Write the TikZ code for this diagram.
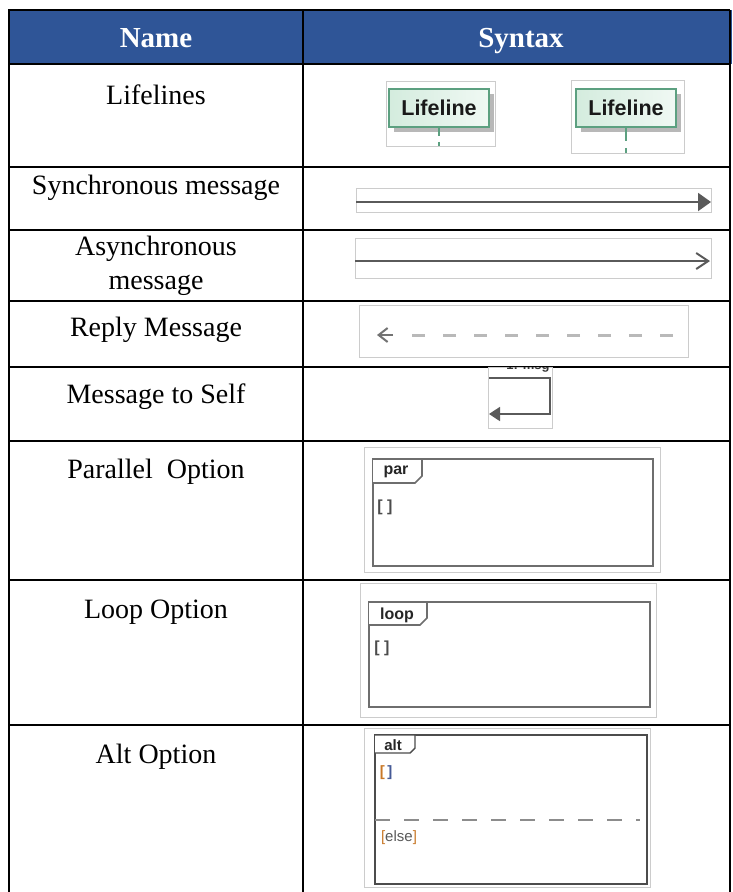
\documentclass[tikz,border=0pt]{standalone}
\usepackage{fontspec}
\setmainfont{Liberation Serif}
\newfontfamily\uisans{Liberation Sans}
\usetikzlibrary{arrows.meta,shadows}

\definecolor{hdrblue}{RGB}{47,85,151}
\definecolor{llborder}{RGB}{92,160,128}
\definecolor{llfill}{RGB}{212,236,222}
\definecolor{framegray}{RGB}{204,204,204}
\definecolor{msggray}{RGB}{90,90,90}
\definecolor{replygray}{RGB}{185,185,185}
\definecolor{cfgray}{RGB}{110,110,110}
\definecolor{guardorange}{RGB}{200,120,40}
\definecolor{guardblue}{RGB}{70,90,150}

\begin{document}
\begin{tikzpicture}[x=1pt,y=-1pt,
  gridline/.style={line width=1.8pt,black},
  hdrtext/.style={text=white,font=\fontsize{29}{30}\selectfont\bfseries,anchor=base},
  nametext/.style={font=\fontsize{28}{34}\selectfont,align=center},
  imgframe/.style={draw=framegray,line width=0.9pt},
  lifeline/.style={draw=llborder,line width=1.6pt,left color=llfill,right color=llfill!35!white,
    minimum width=100pt,minimum height=38pt,inner sep=0pt,text=black!90,
    font=\uisans\fontsize{21.5}{23}\selectfont\bfseries,
    drop shadow={shadow xshift=5pt,shadow yshift=-5pt,fill=black!35,opacity=0.8}},
  lifedash/.style={draw=llborder,line width=1.8pt},
  msgline/.style={draw=msggray,line width=2pt},
  replyline/.style={draw=replygray,line width=3pt,dash pattern=on 13pt off 18pt},
  cfframe/.style={draw=cfgray,line width=2.2pt},
  cftab/.style={draw=cfgray,line width=1.6pt,fill=white},
  cflabel/.style={font=\uisans\fontsize{16}{18}\selectfont\bfseries,text=black!85,inner sep=0pt},
  guard/.style={font=\uisans\fontsize{15}{17}\selectfont,text=black!70,inner sep=0pt},
  fguard/.style={font=\uisans\fontsize{16}{18}\selectfont\bfseries,text=black!70,inner sep=0pt},
]
\useasboundingbox (0,0) rectangle (732,892);

% ---- table header band ----
\fill[hdrblue] (8,10) rectangle (732,64);
\node[hdrtext] (hName) at (156,47) {Name};
\node[hdrtext] (hSyntax) at (521,47) {Syntax};

% ---- table rules ----
\foreach \yy in {10,64,167,230,301,367,441,580,725}
  \draw[gridline] (8,\yy) -- (730,\yy);
\foreach \xx in {9,303,730}
  \draw[gridline] (\xx,10) -- (\xx,892);

% ---- name column ----
\node[nametext] (nLife)  at (156,95)  {Lifelines};
\node[nametext] (nSync)  at (156,188) {Synchronous message};
\node[nametext] (nAsync) at (156,266) {Asynchronous\\message};
\node[nametext] (nReply) at (156,330) {Reply Message};
\node[nametext] (nSelf)  at (156,397) {Message to Self};
\node[nametext] (nPar)   at (156,472) {Parallel\ \ Option};
\node[nametext] (nLoop)  at (156,612) {Loop Option};
\node[nametext] (nAlt)   at (156,757) {Alt Option};

% ---- lifelines ----
\draw[imgframe] (386,81) rectangle (495,146);
\node[lifeline] (lifeA) at (439,108) {Lifeline};
\coordinate (lifeAend) at (439,146);
\draw[lifedash,dash pattern=on 8pt off 6pt] (lifeA.south) -- (lifeAend);

\draw[imgframe] (571,80) rectangle (684,153);
\node[lifeline] (lifeB) at (626,108) {Lifeline};
\coordinate (lifeBend) at (626,153);
\draw[lifedash,dash pattern=on 13pt off 7pt] (lifeB.south) -- (lifeBend);

% ---- synchronous message ----
\draw[imgframe] (356,188) rectangle (711,212);
\coordinate (syncA) at (356,202);
\coordinate (syncB) at (711,202);
\draw[msgline,-{Triangle[length=13pt,width=18pt]}] (syncA) -- (syncB);

% ---- asynchronous message ----
\draw[imgframe] (355,238) rectangle (711,278);
\coordinate (asyncA) at (355,261);
\coordinate (asyncB) at (710,261);
\draw[msgline,-{Straight Barb[length=12pt,width=16pt,line width=2pt]}] (asyncA) -- (asyncB);

% ---- reply message ----
\draw[imgframe] (359,305) rectangle (688,357);
\coordinate (replyA) at (673,335);
\coordinate (replyB) at (406,335);
\coordinate (replyC) at (393,335);
\coordinate (replyD) at (377,335);
\draw[replyline] (replyA) -- (replyB);
\draw[draw=black!55,line width=2pt,-{Straight Barb[length=9pt,width=14pt,line width=2pt]}] (replyC) -- (replyD);

% ---- message to self (label cut off by the frame top) ----
\draw[imgframe] (488,367) rectangle (552,428);
\begin{scope}
  \clip (488,367) rectangle (552,428);
  \node[font=\uisans\fontsize{13}{15}\selectfont\bfseries,text=black!80] (selfLbl) at (528,366) {1: msg};
\end{scope}
\coordinate (selfA) at (489,378);
\coordinate (selfB) at (550,378);
\coordinate (selfC) at (550,414);
\coordinate (selfD) at (489,414);
\draw[msgline,line width=1.8pt,-{Triangle[length=11pt,width=14pt]}] (selfA) -- (selfB) -- (selfC) -- (selfD);

% ---- par fragment ----
\draw[imgframe] (364,447) rectangle (660,572);
\draw[cfframe] (373,459) rectangle (653,566);
\draw[cftab] (373,459) -- (422,459) -- (422,476) -- (415,483) -- (373,483);
\node[cflabel] (parLbl) at (396,472) {par};
\node[fguard] (parGuard) at (385,507) {[ ]};

% ---- loop fragment ----
\draw[imgframe] (360,583) rectangle (656,717);
\draw[cfframe] (369,602) rectangle (650,707);
\draw[cftab] (369,602) -- (427,602) -- (427,618) -- (420,625) -- (369,625);
\node[cflabel] (loopLbl) at (397,615) {loop};
\node[fguard] (loopGuard) at (382,648) {[ ]};

% ---- alt fragment ----
\draw[imgframe] (364,728) rectangle (650,887);
\draw[cfframe,line width=1.6pt,draw=black!70] (375,735) rectangle (647,884);
\draw[cftab,draw=black!70,line width=1.4pt] (375,735) -- (415,735) -- (415,748) -- (410,753) -- (375,753);
\node[cflabel,font=\uisans\fontsize{15}{17}\selectfont\bfseries] (altLbl) at (393,745) {alt};
\node[guard,font=\uisans\fontsize{15}{17}\selectfont\bfseries] (altGuard) at (386,773) {\textcolor{guardorange}{[}\,\textcolor{guardblue}{]}};
\coordinate (altSepA) at (375,820);
\coordinate (altSepB) at (640,820);
\draw[draw=black!45,line width=1.8pt,dash pattern=on 15pt off 14pt] (altSepA) -- (altSepB);
\node[guard] (altElse) at (399,838) {\textcolor{guardorange}{[}\textcolor{black!65}{else}\textcolor{guardorange}{]}};
\end{tikzpicture}
\end{document}
